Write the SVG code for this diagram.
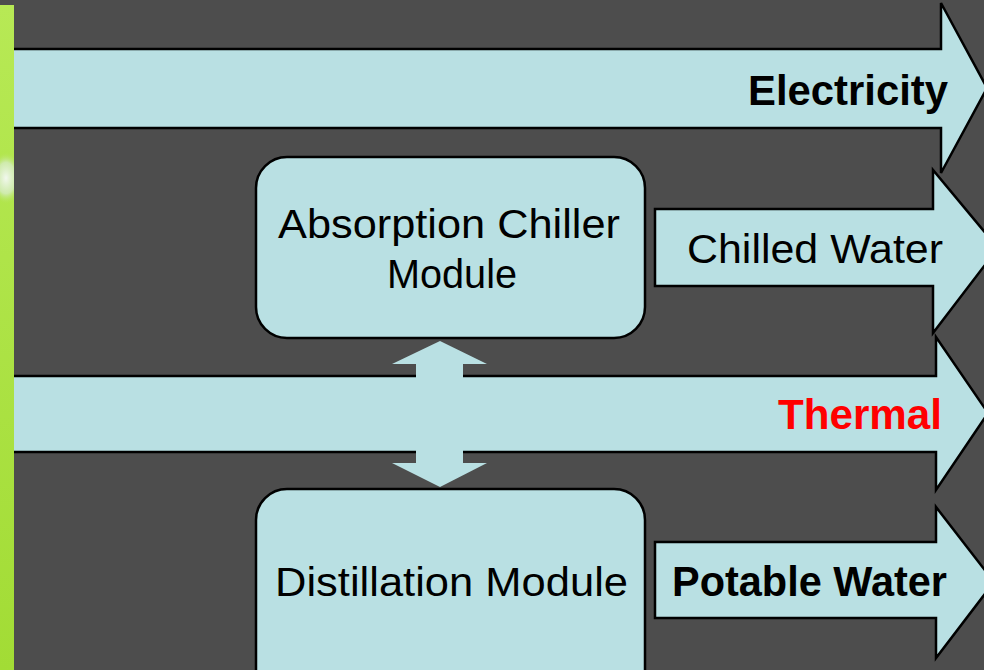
<svg xmlns="http://www.w3.org/2000/svg" width="984" height="670" viewBox="0 0 984 670">
  <defs>
    <linearGradient id="greenGrad" x1="0" y1="0" x2="0" y2="1">
      <stop offset="0" stop-color="#b7e955"/>
      <stop offset="1" stop-color="#a2dc35"/>
    </linearGradient>
    <radialGradient id="blob" cx="0.5" cy="0.5" r="0.5">
      <stop offset="0" stop-color="#f2f8ee"/>
      <stop offset="0.6" stop-color="#d6ecc4" stop-opacity="0.8"/>
      <stop offset="1" stop-color="#b3e452" stop-opacity="0"/>
    </radialGradient>
    <clipPath id="stripClip"><rect x="0" y="5" width="14" height="665"/></clipPath>
  </defs>
  <style>
    .flow { fill: #b9e0e3; stroke: #000; stroke-width: 2.5; stroke-linejoin: miter; }
    .box { fill: #b9e0e3; stroke: #000; stroke-width: 2.5; }
    .lbl { font-family: "Liberation Sans", Arial, sans-serif; font-size: 41px; fill: #000; }
    .bold { font-weight: bold; font-size: 42px; }
    .conn { fill: #b9e0e3; stroke: none; }
  </style>
  <rect width="984" height="670" fill="#4d4d4d"/>

  <g id="electricity">
    <polygon class="flow" points="-5,49 941,49 941,3 987,88 941,173 941,128 -5,128"/>
    <text class="lbl bold" x="748" y="105" textLength="200" lengthAdjust="spacingAndGlyphs">Electricity</text>
  </g>

  <g id="chilled-water">
    <polygon class="flow" points="655,209 933,209 933,170 998,248 933,333 933,286 655,286"/>
    <text class="lbl" x="687" y="263" textLength="256" lengthAdjust="spacingAndGlyphs">Chilled Water</text>
  </g>

  <g id="thermal">
    <polygon class="flow" points="-5,376 936,376 936,337 988,413 936,490 936,452 -5,452"/>
    <text class="lbl bold" x="778" y="429" textLength="164" lengthAdjust="spacingAndGlyphs" style="fill:#ff0000">Thermal</text>
  </g>

  <g id="potable-water">
    <polygon class="flow" points="655,542 936,542 936,507 994,582 936,658 936,618 655,618"/>
    <text class="lbl bold" x="672" y="596" textLength="275" lengthAdjust="spacingAndGlyphs">Potable Water</text>
  </g>

  <g id="absorption-chiller">
    <rect class="box" x="256" y="157" width="389" height="181" rx="31" ry="31"/>
    <text class="lbl" x="278" y="238" textLength="342" lengthAdjust="spacingAndGlyphs">Absorption Chiller</text>
    <text class="lbl" x="387" y="288" textLength="130" lengthAdjust="spacingAndGlyphs">Module</text>
  </g>

  <g id="distillation">
    <rect class="box" x="256" y="489" width="389" height="230" rx="31" ry="31"/>
    <text class="lbl" x="275" y="596" textLength="353" lengthAdjust="spacingAndGlyphs">Distillation Module</text>
  </g>

  <g id="connectors">
    <polygon class="conn" points="440,341 487,364 463,364 463,463 487,463 440,487 392,463 416,463 416,364 392,364"/>
  </g>

  <g id="side-strip">
    <rect x="0" y="5" width="14" height="665" fill="url(#greenGrad)"/>
    <g clip-path="url(#stripClip)">
      <ellipse cx="6" cy="178" rx="16" ry="26" fill="url(#blob)"/>
    </g>
  </g>
</svg>
